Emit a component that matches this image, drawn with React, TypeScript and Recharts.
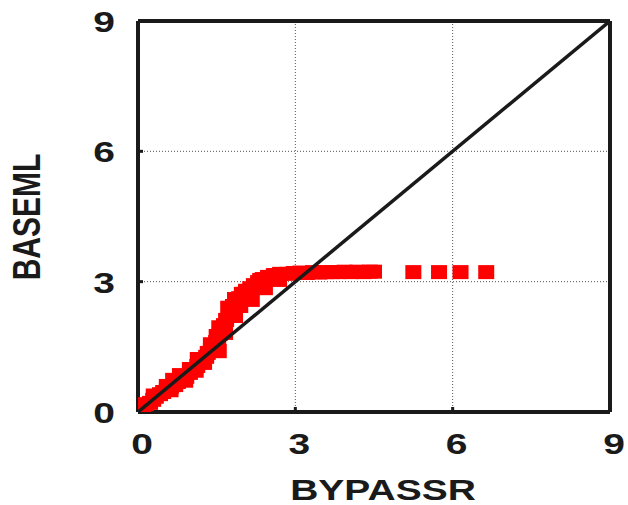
import { ScatterChart, Scatter, XAxis, YAxis, CartesianGrid } from "recharts";

// quantile pairs
const bypassr = [
  0.02, 0.1, 0.15, 0.23, 0.29, 0.34, 0.42, 0.48, 0.55, 0.63, 0.71, 0.76, 0.84, 0.92, 0.99, 1.05, 1.13, 1.18, 1.24,
  1.3, 1.33, 1.39, 1.43, 1.49, 1.53, 1.56, 1.6, 1.64, 1.68, 1.74, 1.77, 1.81, 1.87, 1.93, 1.98, 2.06, 2.14, 2.21,
  2.29, 2.38, 2.48, 2.59, 2.71, 2.84, 2.97,
  0.67, 0.99, 1.14, 1.26, 1.39, 1.54, 1.66, 1.85, 1.85, 1.95, 2.04, 2.17, 2.33, 2.42, 2.61, 2.69,
  0.3, 0.55, 0.8, 0.62, 0.9, 1.1, 1.5, 1.55, 1.72,
  3.1, 3.22, 3.34, 3.46, 3.58, 3.7, 3.82, 3.94, 4.06, 4.18, 4.3, 4.42, 4.5, 5.25, 5.74, 6.15, 6.64,
];
const baseml = [
  0.04, 0.14, 0.18, 0.21, 0.28, 0.35, 0.41, 0.46, 0.51, 0.58, 0.62, 0.69, 0.74, 0.81, 0.9, 0.97, 1.06, 1.15, 1.2,
  1.27, 1.36, 1.43, 1.52, 1.61, 1.7, 1.8, 1.89, 2.0, 2.12, 2.21, 2.33, 2.44, 2.53, 2.62, 2.72, 2.79, 2.85, 2.92,
  2.99, 3.06, 3.11, 3.15, 3.18, 3.18, 3.2,
  0.74, 0.99, 1.22, 1.13, 1.56, 1.4, 1.82, 2.21, 2.6, 2.44, 2.72, 2.58, 3.04, 2.85, 3.15, 3.04,
  0.38, 0.6, 0.85, 0.5, 0.72, 0.95, 1.75, 1.95, 2.4,
  3.21, 3.2, 3.22, 3.21, 3.22, 3.22, 3.22, 3.23, 3.22, 3.23, 3.22, 3.23, 3.23, 3.22, 3.22, 3.22, 3.22,
];
const ticks = [0, 3, 6, 9];
const diagonal = [0, 9];

const points = bypassr.map((x, i) => ({ x, y: baseml[i] }));
const diagPoints = diagonal.map((v) => ({ x: v, y: v }));

const INK = "#1a1a1a";
const FONT = "'Liberation Sans', Arial, sans-serif";
const STRETCH = 1.3;

const Square = (props: any) => (
  <rect x={props.cx - 8} y={props.cy - 7} width={16} height={14} fill="#ff0000" />
);

const XTick = ({ x, y, payload }: any) => (
  <text
    transform={`translate(${x + 4},${y + 42}) scale(${STRETCH},1)`}
    textAnchor="middle"
    fontFamily={FONT}
    fontWeight="bold"
    fontSize={30}
    fill={INK}
  >
    {payload.value}
  </text>
);

const YTick = ({ x, y, payload }: any) => (
  <text
    transform={`translate(${x - 23},${y + 11}) scale(${STRETCH},1)`}
    textAnchor="end"
    fontFamily={FONT}
    fontWeight="bold"
    fontSize={30}
    fill={INK}
  >
    {payload.value}
  </text>
);

export default function App() {
  return (
    <div style={{ position: "absolute", left: 0, top: 0 }}>
      <ScatterChart width={628} height={505} margin={{ top: 0, right: 0, bottom: 0, left: 0 }}>
        <CartesianGrid stroke="#555" strokeDasharray="1 2" strokeWidth={1} />
        <XAxis
          type="number"
          dataKey="x"
          domain={[0, 9]}
          ticks={ticks}
          height={93}
          axisLine={{ stroke: INK, strokeWidth: 4 }}
          tickLine={{ stroke: INK, strokeWidth: 3 }}
          tickSize={-5}
          tickMargin={5}
          tick={<XTick />}
          allowDataOverflow
        />
        <XAxis
          xAxisId="top"
          orientation="top"
          type="number"
          dataKey="x"
          domain={[0, 9]}
          ticks={ticks}
          height={21}
          axisLine={{ stroke: INK, strokeWidth: 4 }}
          tickLine={{ stroke: INK, strokeWidth: 3 }}
          tickSize={-5}
          tick={false}
        />
        <YAxis
          type="number"
          dataKey="y"
          domain={[0, 9]}
          ticks={ticks}
          width={138}
          axisLine={{ stroke: INK, strokeWidth: 4 }}
          tickLine={{ stroke: INK, strokeWidth: 3 }}
          tickSize={-5}
          tickMargin={5}
          tick={<YTick />}
          allowDataOverflow
        />
        <YAxis
          yAxisId="right"
          orientation="right"
          type="number"
          dataKey="y"
          domain={[0, 9]}
          ticks={ticks}
          width={18}
          axisLine={{ stroke: INK, strokeWidth: 4 }}
          tickLine={{ stroke: INK, strokeWidth: 3 }}
          tickSize={-5}
          tick={false}
        />
        <Scatter data={points} shape={Square} isAnimationActive={false} />
        <Scatter
          data={diagPoints}
          line={{ stroke: INK, strokeWidth: 3.5 }}
          shape={() => <g />}
          isAnimationActive={false}
        />
        <text
          transform={`translate(383,500) scale(${STRETCH},1)`}
          textAnchor="middle"
          fontFamily={FONT}
          fontWeight="bold"
          fontSize={30}
          fill={INK}
        >
          BYPASSR
        </text>
        <text
          transform={`translate(40,217) scale(${STRETCH},1) rotate(-90)`}
          textAnchor="middle"
          fontFamily={FONT}
          fontWeight="bold"
          fontSize={30}
          fill={INK}
        >
          BASEML
        </text>
      </ScatterChart>
    </div>
  );
}
